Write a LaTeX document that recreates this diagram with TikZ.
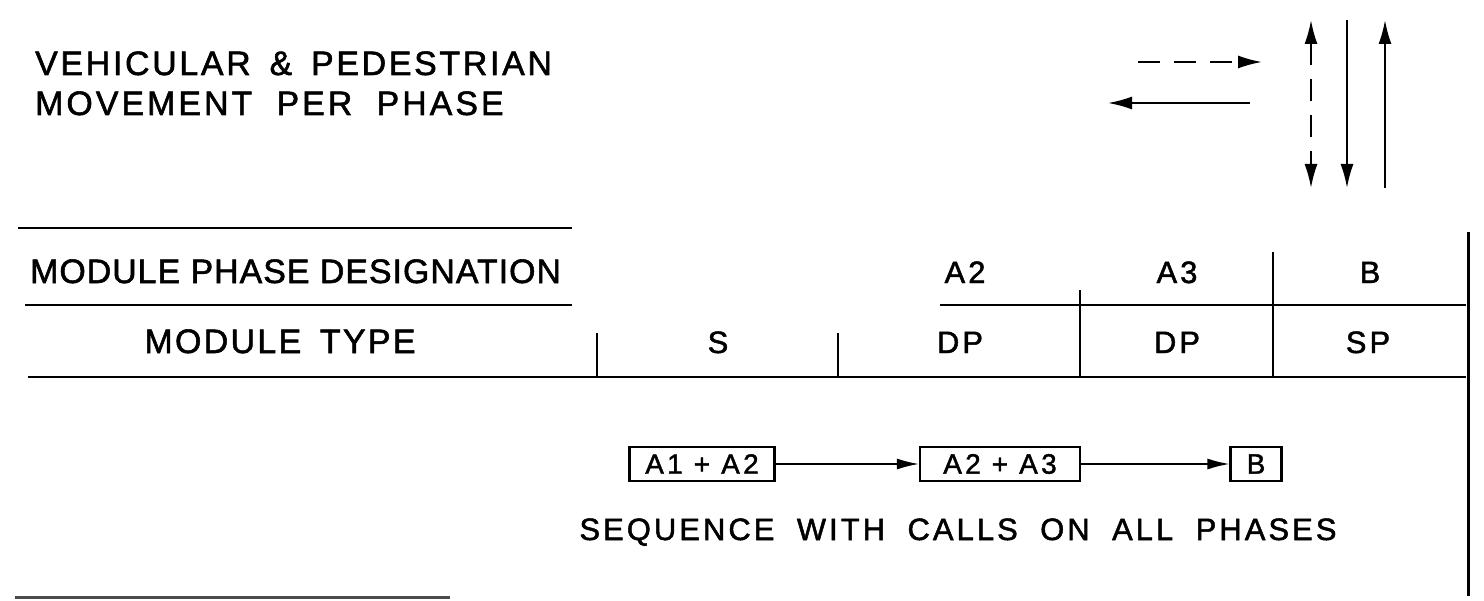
\documentclass[tikz,border=0pt]{standalone}
\usepackage{fontspec}
\setmainfont{Liberation Sans}
\usetikzlibrary{arrows.meta}
\newcommand{\ls}[1]{\addfontfeatures{LetterSpace=#1,FakeBold=1.6}}
\begin{document}
\begin{tikzpicture}[x=1bp,y=-1bp,
  rule/.style={line width=2.4bp},
  big/.style={inner sep=0pt, font=\fontsize{34}{40}\selectfont},
  mid/.style={inner sep=0pt, font=\fontsize{31}{36}\selectfont},
  seqbox/.style={draw, line width=2.2bp, inner sep=0pt, minimum height=34bp, font=\fontsize{28}{32}\selectfont\ls{12}},
  flow/.style={line width=1.6bp, -{Latex[length=22bp,width=11bp]}},
  mvhead/.tip={Latex[length=24bp,width=13bp]},
  mv/.style={line width=2bp},
  dashmv/.style={mv, dash pattern=on 22bp off 14bp},
]
\useasboundingbox (0,0) rectangle (1484,601);
\fill[white] (0,0) rectangle (1484,601);

% title
\node[big, anchor=base west] (t1) at (35,75) {\ls{8}VEHICULAR\hspace{0.2em} \& \hspace{0.2em}PEDESTRIAN};
\node[big, anchor=base west] (t2) at (35,115) {\ls{9}MOVEMENT\hspace{0.35em} PER\hspace{0.35em} PHASE};

% movement symbols
\coordinate (h1a) at (1138,62);  \coordinate (h1b) at (1262,62);
\coordinate (h2a) at (1250,103); \coordinate (h2b) at (1108,103);
\coordinate (v1a) at (1311,20);  \coordinate (v1b) at (1311,188);
\coordinate (v2a) at (1347,20);  \coordinate (v2b) at (1347,188);
\coordinate (v3a) at (1385,188); \coordinate (v3b) at (1385,20);
\draw[dashmv, -mvhead] (h1a) -- (h1b);
\draw[mv, -mvhead] (h2a) -- (h2b);
\draw[dashmv, mvhead-mvhead] (v1a) -- (v1b);
\draw[mv, -mvhead] (v2a) -- (v2b);
\draw[mv, -mvhead] (v3a) -- (v3b);

% table rules
\draw[rule] (18,228) -- (572,228);
\draw[rule] (25,305) -- (572,305);
\draw[rule] (940,305) -- (1466,305);
\draw[rule] (28,377) -- (1466,377);
\draw[rule] (597,333) -- (597,377);
\draw[rule] (838,333) -- (838,377);
\draw[rule] (1080,290) -- (1080,377);
\draw[rule] (1273,252) -- (1273,377);
\draw[line width=3bp] (1468,232) -- (1468,596);
\draw[line width=3bp, black!70] (15,597) -- (450,597);

% table texts
\node[big, anchor=base west] (mpd) at (30,283) {\ls{3}MODULE PHASE DESIGNATION};
\node[mid, anchor=base] (pa2) at (965,283) {\ls{10}A2};
\node[mid, anchor=base] (pa3) at (1177,283) {\ls{10}A3};
\node[mid, anchor=base] (pb) at (1370,283) {\ls{10}B};
\node[big, anchor=base] (mt) at (280,353) {\ls{7}MODULE\hspace{0.55em}TYPE};
\node[mid, anchor=base] (ts) at (718,353) {\ls{10}S};
\node[mid, anchor=base] (td1) at (960,353) {\ls{10}DP};
\node[mid, anchor=base] (td2) at (1177,353) {\ls{10}DP};
\node[mid, anchor=base] (tsp) at (1368,353) {\ls{10}SP};

% sequence
\node[seqbox, minimum width=145bp] (b1) at (702,464) {A1 + A2};
\node[seqbox, minimum width=160bp] (b2) at (1000,464) {A2 + A3};
\node[seqbox, minimum width=51bp] (b3) at (1256,464) {B};
\draw[flow] (b1) -- (b2);
\draw[flow] (b2) -- (b3);
\node[mid, anchor=base] (seq) at (958,540) {\ls{10}SEQUENCE\hspace{0.35em} WITH\hspace{0.35em} CALLS\hspace{0.35em} ON\hspace{0.35em} ALL\hspace{0.35em} PHASES};
\end{tikzpicture}
\end{document}
